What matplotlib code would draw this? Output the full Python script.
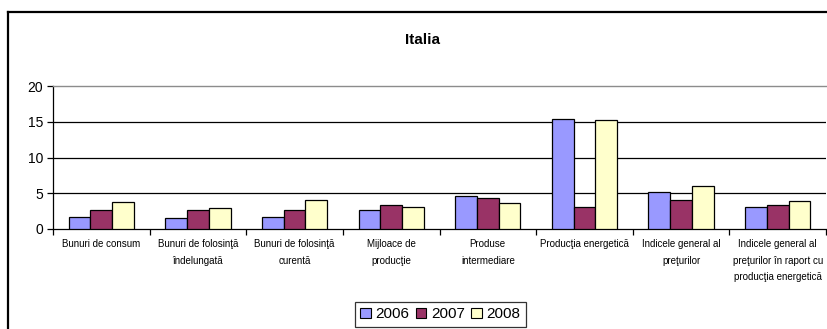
import matplotlib
matplotlib.use("Agg")
import matplotlib.pyplot as plt
from matplotlib.lines import Line2D
from matplotlib.patches import Patch
import numpy as np

plt.rcParams['font.family'] = ['Liberation Sans', 'DejaVu Sans']

categories = [
    "Bunuri de consum",
    "Bunuri de folosinţă\nîndelungată",
    "Bunuri de folosinţă\ncurentă",
    "Mijloace de\nproducţie",
    "Produse\nintermediare",
    "Producţia energetică",
    "Indicele general al\npreţurilor",
    "Indicele general al\npreţurilor în raport cu\nproducţia energetică",
]
years = ["2006", "2007", "2008"]
values_2006 = [1.7, 1.5, 1.7, 2.7, 4.6, 15.4, 5.2, 3.1]
values_2007 = [2.7, 2.7, 2.7, 3.3, 4.4, 3.1, 4.0, 3.4]
values_2008 = [3.8, 2.9, 4.0, 3.1, 3.6, 15.2, 6.0, 3.9]
colors = ["#9999FF", "#993366", "#FFFFCC"]

W, H = 827, 329
fig = plt.figure(figsize=(W / 100, H / 100), dpi=100)
fig.patch.set_facecolor("white")

# outer chart frame (left and top edges)
fig.add_artist(Line2D([8 / W, 8 / W], [0, 1 - 12 / H], color="black", lw=1.6,
                      transform=fig.transFigure))
fig.add_artist(Line2D([8 / W, 1], [1 - 12 / H, 1 - 12 / H], color="black", lw=1.6,
                      transform=fig.transFigure))

left, right, top, bottom = 53, 826, 86, 229
ax = fig.add_axes([left / W, 1 - bottom / H, (right - left) / W, (bottom - top) / H])

x = np.arange(len(categories))
bw = 0.225
series = [values_2006, values_2007, values_2008]
for i, (vals, c) in enumerate(zip(series, colors)):
    ax.bar(x + (i - 1) * bw, vals, width=bw, color=c, edgecolor="black",
           linewidth=0.9, zorder=3, label=years[i])

ax.set_xlim(-0.5, len(categories) - 0.5)
ax.set_ylim(0, 20)
ax.set_yticks([0, 5, 10, 15, 20])
ax.set_yticklabels(["0", "5", "10", "15", "20"], fontsize=10)
for yv in [5, 10, 15]:
    ax.axhline(yv, color="black", lw=0.9, zorder=1)

ax.set_xticks(x)
ax.set_xticklabels(categories, fontsize=7.0, linespacing=1.85)
ax.tick_params(axis="x", length=0, pad=7)
ax.set_xticks(np.arange(len(categories) + 1) - 0.5, minor=True)
ax.tick_params(axis="x", which="minor", length=4, width=0.9, direction="out")
ax.tick_params(axis="y", length=4, width=0.9, direction="out", pad=3)

ax.spines["top"].set_color("#8c8c8c")
ax.spines["top"].set_linewidth(1.0)
ax.spines["right"].set_visible(False)
ax.spines["left"].set_linewidth(0.9)
ax.spines["bottom"].set_linewidth(0.9)

fig.text(423 / W, 1 - 40 / H, "Italia", ha="center", va="center",
         fontsize=11, fontweight="bold")

handles = [Patch(facecolor=c, edgecolor="black", linewidth=0.8) for c in colors]
leg = fig.legend(handles, years, loc="upper left",
                 bbox_to_anchor=(355 / W, 1 - 302 / H), ncol=3, fontsize=11,
                 frameon=True, fancybox=False, borderaxespad=0,
                 handlelength=0.7, handleheight=0.7, handletextpad=0.3,
                 columnspacing=0.4, borderpad=0.35)
leg.get_frame().set_edgecolor("black")
leg.get_frame().set_linewidth(0.9)

fig.savefig("out.png", dpi=100)
